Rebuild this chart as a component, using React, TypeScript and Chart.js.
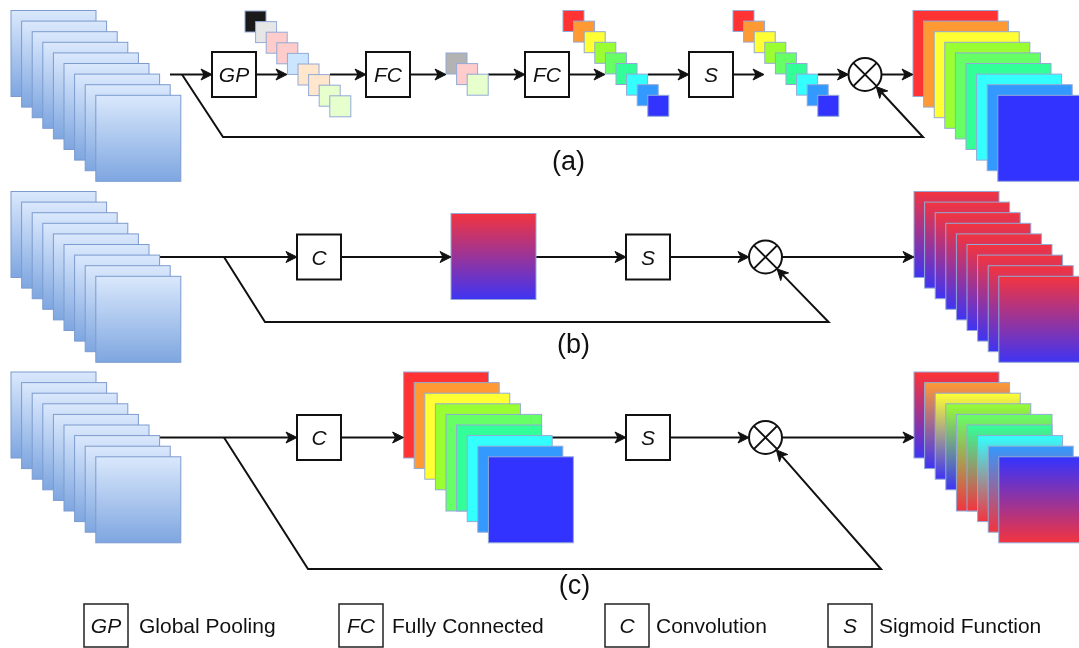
import React, { useEffect, useRef } from 'react';
import { Chart, registerables } from 'chart.js';

Chart.register(...registerables);

// ---------------- data ----------------
const rowLabels = ['(a)', '(b)', '(c)'];
const rowAOps = ['GP', 'FC', 'FC', 'S'];
const rowBOps = ['C', 'S'];
const rowCOps = ['C', 'S'];
const legendCodes = ['GP', 'FC', 'C', 'S'];
const legendNames = ['Global Pooling', 'Fully Connected', 'Convolution', 'Sigmoid Function'];
const channelColors = ['#ff3333', '#ff9933', '#ffff33', '#99ff33', '#66ff66', '#33ff99', '#33ffff', '#3399ff', '#3333ff'];
const pooledColors = ['#1a1a1a', '#e6e6e6', '#ffcccc', '#ffcccc', '#cce5ff', '#ffe6cc', '#ffe6cc', '#e6ffcc', '#e6ffcc'];
const reducedColors = ['#b3b3b3', '#ffcccc', '#e6ffcc'];
const inputGradient = ['#dae8fc', '#7ea6e0'];
const spatialGradient = ['#f3343f', '#3f34f3'];
const mixedBottoms = ['blue', 'blue', 'blue', 'blue', 'red', 'red', 'red', 'red', 'red'];

// ---------------- layout (positions / sizes / styles) ----------------
const W = 1079;
const H = 648;
const BIG_W = 85;
const BIG_H = 86;
const SMALL = 21;
const STEP = 10.6;
const INPUT_X = 11;
const ROW_TOP = [10.5, 191.5, 372];
const ROW_Y = [74.5, 257, 437.5];
const BOX_W = 44;
const BOX_H = 45;
const CIRCLE_R = 16.5;
const ARROW_LEN = 11;
const ARROW_HALF = 5.5;
const ARROW_NOTCH = 3;
const LABEL_POS = [
  [568.5, 162.5],
  [573.5, 346],
  [574.5, 586.5],
];
const LEGEND_BOX_X = [84, 339, 605, 828];
const LEGEND_TEXT_X = [139, 392, 656, 879];
const LEGEND_BOX_Y = 604;
const LEGEND_BOX_H = 43;
const LEGEND_BASELINE = 633;
const FONT = '"Liberation Sans", Arial, Helvetica, sans-serif';

type Pt = { x: number; y: number };
type Path = { pts: Pt[]; arrow: boolean };
type Stack = {
  x: number; y: number; w: number; h: number; step: number;
  tops: string[]; bottoms?: string[]; stroke: string; enlarge?: number;
};
type Box = { x: number; y: number; label: string };
type Circle = { x: number; y: number };

const toSpatial = (k: string) => (k === 'red' ? spatialGradient[0] : spatialGradient[1]);

function feedbackTip(c: Circle, corner: Pt): Pt {
  const dx = corner.x - c.x;
  const dy = corner.y - c.y;
  const d = Math.hypot(dx, dy);
  return { x: c.x + (dx / d) * CIRCLE_R, y: c.y + (dy / d) * CIRCLE_R };
}

function buildScene() {
  const paths: Path[] = [];
  const stacks: Stack[] = [];
  const boxes: Box[] = [];
  const circles: Circle[] = [];
  const n = channelColors.length;
  const arrow = (x1: number, x2: number, y: number) =>
    paths.push({ pts: [{ x: x1, y }, { x: x2, y }], arrow: true });

  const inputStack = (row: number): Stack => ({
    x: INPUT_X, y: ROW_TOP[row], w: BIG_W, h: BIG_H, step: STEP,
    tops: Array(n).fill(inputGradient[0]), bottoms: Array(n).fill(inputGradient[1]), stroke: '#7c9bcf',
  });

  // ---- row (a) ----
  {
    const y = ROW_Y[0];
    stacks.push(inputStack(0));
    arrow(170, 212, y);
    const circle = { x: 865, y };
    const corner = { x: 923, y: 137 };
    paths.push({ pts: [{ x: 182, y }, { x: 223, y: 137 }, corner, feedbackTip(circle, corner)], arrow: true });
    const boxX = [212, 366, 525, 689];
    const stackPos = [[245, 11], [446, 53], [563, 10.5], [733, 10.5]];
    const stackColors = [pooledColors, reducedColors, channelColors, channelColors];
    const inTips = [287, 446, 605, 764];
    const outStarts = [330, 488, 648, 818];
    rowAOps.forEach((op, i) => {
      boxes.push({ x: boxX[i], y, label: op });
      arrow(boxX[i] + BOX_W, inTips[i], y);
      stacks.push({ x: stackPos[i][0], y: stackPos[i][1], w: SMALL, h: SMALL, step: STEP, tops: stackColors[i], stroke: '#93aad6' });
      const next = i + 1 < rowAOps.length ? boxX[i + 1] : circle.x - CIRCLE_R;
      arrow(outStarts[i], next, y);
    });
    circles.push(circle);
    arrow(circle.x + CIRCLE_R, 913, y);
    stacks.push({ x: 913, y: ROW_TOP[0], w: BIG_W, h: BIG_H, step: STEP, tops: channelColors, stroke: '#93aad6' });
  }

  // ---- row (b) ----
  {
    const y = ROW_Y[1];
    stacks.push(inputStack(1));
    const circle = { x: 765.5, y };
    const corner = { x: 828.6, y: 322 };
    arrow(160, 297, y);
    paths.push({ pts: [{ x: 224, y }, { x: 265, y: 322 }, corner, feedbackTip(circle, corner)], arrow: true });
    boxes.push({ x: 297, y, label: rowBOps[0] });
    arrow(297 + BOX_W, 451, y);
    stacks.push({ x: 451, y: y - 43.5, w: BIG_W, h: BIG_H, step: STEP, tops: [spatialGradient[0]], bottoms: [spatialGradient[1]], stroke: '#93aad6' });
    arrow(536, 626, y);
    boxes.push({ x: 626, y, label: rowBOps[1] });
    arrow(626 + BOX_W, circle.x - CIRCLE_R, y);
    circles.push(circle);
    arrow(circle.x + CIRCLE_R, 914, y);
    stacks.push({
      x: 914, y: ROW_TOP[1], w: BIG_W, h: BIG_H, step: STEP,
      tops: Array(n).fill(spatialGradient[0]), bottoms: Array(n).fill(spatialGradient[1]), stroke: '#93aad6',
    });
  }

  // ---- row (c) ----
  {
    const y = ROW_Y[2];
    stacks.push(inputStack(2));
    const circle = { x: 765.5, y };
    const corner = { x: 881, y: 569 };
    arrow(160, 297, y);
    paths.push({ pts: [{ x: 224, y }, { x: 308, y: 569 }, corner, feedbackTip(circle, corner)], arrow: true });
    boxes.push({ x: 297, y, label: rowCOps[0] });
    arrow(297 + BOX_W, 403.6, y);
    stacks.push({ x: 403.6, y: ROW_TOP[2], w: BIG_W, h: BIG_H, step: STEP, tops: channelColors, stroke: '#93aad6', enlarge: 4 });
    arrow(552, 626, y);
    boxes.push({ x: 626, y, label: rowCOps[1] });
    arrow(626 + BOX_W, circle.x - CIRCLE_R, y);
    circles.push(circle);
    arrow(circle.x + CIRCLE_R, 914, y);
    stacks.push({
      x: 914, y: ROW_TOP[2], w: BIG_W, h: BIG_H, step: STEP,
      tops: channelColors, bottoms: mixedBottoms.map(toSpatial), stroke: '#93aad6', enlarge: 4,
    });
  }

  return { paths, stacks, boxes, circles };
}

function trimmedPoints(p: Path): Pt[] {
  if (!p.arrow) return p.pts;
  const pts = p.pts.slice();
  const a = pts[pts.length - 2];
  const b = pts[pts.length - 1];
  const d = Math.hypot(b.x - a.x, b.y - a.y);
  const cut = ARROW_LEN - ARROW_NOTCH;
  pts[pts.length - 1] = { x: b.x - ((b.x - a.x) / d) * cut, y: b.y - ((b.y - a.y) / d) * cut };
  return pts;
}

function drawScene(chart: any, scene: ReturnType<typeof buildScene>) {
  const ctx: CanvasRenderingContext2D = chart.ctx;
  const sx = chart.scales.x;
  const sy = chart.scales.y;
  const X = (v: number) => sx.getPixelForValue(v);
  const Y = (v: number) => sy.getPixelForValue(v);
  ctx.save();

  // stacks
  scene.stacks.forEach((s) => {
    const count = s.tops.length;
    for (let i = 0; i < count; i++) {
      const extra = s.enlarge === i ? s.step : 0;
      const x0 = X(s.x + i * s.step);
      const y0 = Y(s.y + i * s.step);
      const x1 = X(s.x + i * s.step + s.w + extra);
      const y1 = Y(s.y + i * s.step + s.h + extra);
      let fill: string | CanvasGradient = s.tops[i];
      if (s.bottoms) {
        const g = ctx.createLinearGradient(0, y0, 0, y1);
        g.addColorStop(0, s.tops[i]);
        g.addColorStop(1, s.bottoms[i]);
        fill = g;
      }
      ctx.fillStyle = fill;
      ctx.fillRect(x0, y0, x1 - x0, y1 - y0);
      ctx.strokeStyle = s.stroke;
      ctx.lineWidth = 1;
      ctx.strokeRect(x0, y0, x1 - x0, y1 - y0);
    }
  });

  // operation boxes
  scene.boxes.forEach((b) => {
    const x0 = X(b.x);
    const y0 = Y(b.y - BOX_H / 2);
    const w = X(b.x + BOX_W) - x0;
    const h = Y(b.y + BOX_H / 2) - y0;
    ctx.fillStyle = '#ffffff';
    ctx.fillRect(x0, y0, w, h);
    ctx.strokeStyle = '#111';
    ctx.lineWidth = 2;
    ctx.strokeRect(x0, y0, w, h);
    ctx.fillStyle = '#111';
    ctx.font = 'italic 21px ' + FONT;
    ctx.textAlign = 'center';
    ctx.textBaseline = 'alphabetic';
    ctx.fillText(b.label, x0 + w / 2, Y(b.y) + 7.5);
  });

  // multiply circles
  scene.circles.forEach((c) => {
    const cx = X(c.x);
    const cy = Y(c.y);
    const r = X(c.x + CIRCLE_R) - cx;
    ctx.beginPath();
    ctx.arc(cx, cy, r, 0, Math.PI * 2);
    ctx.fillStyle = '#fff';
    ctx.fill();
    ctx.strokeStyle = '#111';
    ctx.lineWidth = 2;
    ctx.stroke();
    const k = r * Math.SQRT1_2;
    ctx.beginPath();
    ctx.moveTo(cx - k, cy - k);
    ctx.lineTo(cx + k, cy + k);
    ctx.moveTo(cx + k, cy - k);
    ctx.lineTo(cx - k, cy + k);
    ctx.stroke();
  });

  // arrow heads
  scene.paths.forEach((p) => {
    if (!p.arrow) return;
    const a = p.pts[p.pts.length - 2];
    const b = p.pts[p.pts.length - 1];
    const ax = X(a.x), ay = Y(a.y), bx = X(b.x), by = Y(b.y);
    const d = Math.hypot(bx - ax, by - ay);
    const ux = (bx - ax) / d, uy = (by - ay) / d;
    const nx = -uy, ny = ux;
    ctx.beginPath();
    ctx.moveTo(bx, by);
    ctx.lineTo(bx - ux * ARROW_LEN + nx * ARROW_HALF, by - uy * ARROW_LEN + ny * ARROW_HALF);
    ctx.lineTo(bx - ux * (ARROW_LEN - ARROW_NOTCH), by - uy * (ARROW_LEN - ARROW_NOTCH));
    ctx.lineTo(bx - ux * ARROW_LEN - nx * ARROW_HALF, by - uy * ARROW_LEN - ny * ARROW_HALF);
    ctx.closePath();
    ctx.fillStyle = '#111';
    ctx.fill();
    ctx.strokeStyle = '#111';
    ctx.lineWidth = 1;
    ctx.stroke();
  });

  // row labels
  ctx.fillStyle = '#111';
  ctx.font = '27px ' + FONT;
  ctx.textAlign = 'center';
  ctx.textBaseline = 'alphabetic';
  rowLabels.forEach((t, i) => {
    ctx.fillText(t, X(LABEL_POS[i][0]), Y(LABEL_POS[i][1]) + 7);
  });

  // legend
  legendCodes.forEach((code, i) => {
    const x0 = X(LEGEND_BOX_X[i]);
    const y0 = Y(LEGEND_BOX_Y);
    const w = X(LEGEND_BOX_X[i] + BOX_W) - x0;
    const h = Y(LEGEND_BOX_Y + LEGEND_BOX_H) - y0;
    ctx.strokeStyle = '#222';
    ctx.lineWidth = 1.5;
    ctx.strokeRect(x0, y0, w, h);
    ctx.fillStyle = '#111';
    ctx.font = 'italic 21px ' + FONT;
    ctx.textAlign = 'center';
    ctx.fillText(code, x0 + w / 2, Y(LEGEND_BASELINE));
    ctx.font = '21px ' + FONT;
    ctx.textAlign = 'left';
    ctx.fillText(legendNames[i], X(LEGEND_TEXT_X[i]), Y(LEGEND_BASELINE));
  });

  ctx.restore();
}

export default function App() {
  const ref = useRef<HTMLCanvasElement>(null);

  useEffect(() => {
    document.body.style.margin = '0';
    const canvas = ref.current;
    if (!canvas) return;
    const scene = buildScene();
    const datasets = scene.paths.map((p) => ({
      data: trimmedPoints(p),
      showLine: true,
      borderColor: '#111',
      borderWidth: 2,
      pointRadius: 0,
      pointHoverRadius: 0,
      fill: false,
      tension: 0,
      clip: false,
      borderJoinStyle: 'miter' as const,
      borderCapStyle: 'butt' as const,
    }));
    const diagramPlugin = {
      id: 'attentionDiagram',
      afterDatasetsDraw(chart: any) {
        drawScene(chart, scene);
      },
    };
    const chart = new Chart(canvas, {
      type: 'scatter',
      data: { datasets },
      options: {
        responsive: false,
        animation: false,
        devicePixelRatio: 1,
        events: [],
        layout: { padding: 0 },
        plugins: { legend: { display: false }, tooltip: { enabled: false } },
        scales: {
          x: { type: 'linear', min: 0, max: W, display: false },
          y: { type: 'linear', min: 0, max: H, reverse: true, display: false },
        },
      },
      plugins: [diagramPlugin],
    });
    return () => chart.destroy();
  }, []);

  return (
    <div style={{ position: 'absolute', left: 0, top: 0, width: W, height: H, background: '#fff' }}>
      <canvas ref={ref} width={W} height={H} style={{ display: 'block' }} />
    </div>
  );
}
